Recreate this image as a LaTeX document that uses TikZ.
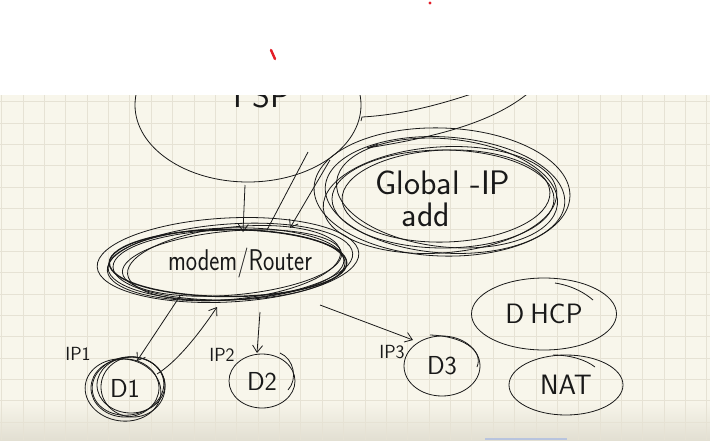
\documentclass[tikz,border=0pt]{standalone}
\usepackage{fontspec}
\usepackage{graphicx}
\usetikzlibrary{arrows.meta,shapes.geometric,calc}
\definecolor{paper}{RGB}{248,246,235}
\definecolor{paperdark}{RGB}{226,223,210}
\definecolor{gridline}{RGB}{230,226,212}
\definecolor{pen}{RGB}{25,25,25}
\definecolor{marker}{RGB}{228,30,40}
\definecolor{uibar}{RGB}{184,196,222}

\begin{document}
\begin{tikzpicture}[x=1pt, y=-1pt,
    ink/.style={draw=pen, line width=0.8pt},
    blob/.style={ellipse, ink, inner sep=0pt},
    hand/.style={font=\sffamily\fontsize{#1}{#1}\selectfont, text=pen},
    tip/.style={-{Straight Barb[length=7pt,width=10pt]}},
    sq/.style={draw=gridline, line width=0.9pt}
  ]
  \useasboundingbox (0,0) rectangle (710,440);
  \fill[paper] (0,95) rectangle (710,440);
  \shade[top color=paper, bottom color=paperdark] (0,400) rectangle (710,440);
  \foreach \i in {0,...,33}
    \draw[sq] ({1.7+21.37*\i},95) -- ++(0,345);
  \foreach \j in {0,...,15}
    \draw[sq] (0,{101.7+21.37*\j}) -- ++(710,0);

  \node[blob, minimum width=226, minimum height=154] (isp) at (248,105) {};
  \node[hand=34] (isptext) at (262,96) {I\hspace{10pt}SP};

  \node[blob, minimum width=222, minimum height=98, hand=34, align=center] (gip) at (443,199)
    {Global -IP\\[-2pt]\hspace*{-34pt}add};
  \draw[ink] ($(gip.center)+(-1,-7)$) circle[x radius=128, y radius=64, rotate=-2];
  \draw[ink] ($(gip.center)+(2,-4)$) circle[x radius=120, y radius=58, rotate=-4];
  \draw[ink] ($(gip.center)+(-3,1)$) circle[x radius=117, y radius=53, rotate=4];
  \draw[ink] ($(gip.center)+(4,-6)$) circle[x radius=111, y radius=54, rotate=-6];
  \draw[ink] ($(gip.center)+(3,-3)$) circle[x radius=104, y radius=46, rotate=2];

  \node[blob, line width=1.4pt, minimum width=224, minimum height=67, hand=30] (modem) at (228,263)
    {\hspace*{24pt}\scalebox{0.8}[1]{modem/Router}};
  \draw[ink] ($(modem.center)+(0,-3)$) circle[x radius=131, y radius=42, rotate=3];
  \draw[ink] ($(modem.center)+(2,-1)$) circle[x radius=123, y radius=38, rotate=4];
  \draw[ink] ($(modem.center)+(-2,1)$) circle[x radius=118, y radius=36, rotate=2];
  \draw[ink] ($(modem.center)+(4,0)$) circle[x radius=110, y radius=32, rotate=5];
  \draw[ink] ($(modem.center)+(1,2)$) circle[x radius=116, y radius=35, rotate=1];
  \draw[ink] ($(modem.center)+(6,0)$) circle[x radius=107, y radius=36, rotate=6];

  \node[blob, minimum width=68, minimum height=58, hand=26] (d1) at (125,388) {D1};
  \draw[ink] ($(d1.center)+(3,-2)$) circle[x radius=36, y radius=29, rotate=10];
  \draw[ink] ($(d1.center)+(6,-3)$) circle[x radius=34, y radius=28];
  \draw[ink] ($(d1.center)+(-2,2)$) circle[x radius=38, y radius=31, rotate=-8];
  \draw[ink] ($(d1.center)+(8,-1)$) circle[x radius=32, y radius=30];

  \node[blob, minimum width=66, minimum height=54, hand=26] (d2) at (262,381) {D2};
  \draw[ink] ($(d2.center)+(18,-28)$) .. controls ($(d2.center)+(32,-22)$) and ($(d2.center)+(36,-2)$) .. ($(d2.center)+(26,9)$);

  \node[blob, minimum width=76, minimum height=60, hand=26] (d3) at (442,366) {D3};
  \draw[ink] ($(d3.center)+(-12,-31)$) .. controls ($(d3.center)+(20,-30)$) and ($(d3.center)+(42,-16)$) .. ($(d3.center)+(35,1)$);

  \node[blob, minimum width=145, minimum height=72, hand=28] (dhcp) at (544,314) {D\hspace{6pt}HCP};
  \draw[ink] ($(dhcp.center)+(11,-31)$) .. controls ($(dhcp.center)+(30,-28)$) and ($(dhcp.center)+(42,-20)$) .. ($(dhcp.center)+(49,-14)$);

  \node[blob, minimum width=114, minimum height=60, hand=28] (nat) at (566,385) {NAT};
  \draw[ink] ($(nat.center)+(-13,-30)$) .. controls ($(nat.center)+(5,-30)$) and ($(nat.center)+(20,-25)$) .. ($(nat.center)+(29,-18)$);

  \node[hand=19] (ip1) at (78,354) {IP1};
  \node[hand=19] (ip2) at (222,355) {IP2};
  \node[hand=19] (ip3) at (392,352) {IP3};

  \draw[ink, tip] ($(isp.center)+(-3,80)$) -- ($(modem.center)+(15,-31)$);
  \draw[ink] ($(isp.center)+(60,47)$) -- ($(modem.center)+(39,-33)$);
  \draw[ink, tip] ($(isp.center)+(82,55)$) -- ($(modem.center)+(62,-35)$);
  \draw[ink, tip] ($(modem.center)+(-48,33)$) -- ($(d1.center)+(12,-27)$);
  \draw[ink, tip] ($(d1.center)+(32,-14)$) .. controls ($(d1.center)+(55,-28)$) and ($(modem.center)+(-23,62)$) .. ($(modem.center)+(-11,44)$);
  \draw[ink, tip] ($(modem.center)+(32,49)$) -- ($(d2.center)+(-5,-28)$);
  \draw[ink, tip] ($(modem.center)+(92,42)$) -- ($(d3.center)+(-29,-26)$);

  \draw[ink] (361,121) -- (362,117) .. controls (400,115) and (440,105) .. (480,91);
  \draw[ink] (532,90) .. controls (500,118) and (450,135) .. (367,148) -- (378,144);

  \fill[white] (0,0) rectangle (710,95);
  \fill[marker] (430,3) circle (1.6);
  \draw[marker, line width=2.4pt, line cap=round] (271,50) -- (275,59);
  \fill[uibar] (485,438) rectangle (567,440);
\end{tikzpicture}
\end{document}
